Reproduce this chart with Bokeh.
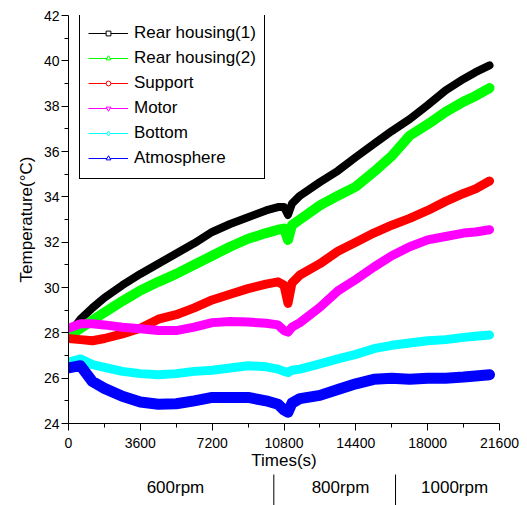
from bokeh.plotting import figure
from bokeh.layouts import column
from bokeh.models import Range1d, FixedTicker, Legend, LegendItem
from bokeh.core.properties import value
from bokeh.embed import file_html
from bokeh.resources import INLINE

# ---------------- data ----------------
time_s = [0, 600, 1200, 1800, 2700, 3600, 4500, 5400, 6300, 7200, 8100, 9000,
          9900, 10500, 10800, 11000, 11200, 11600, 12600, 13500, 14400, 15300,
          16200, 17100, 18000, 18900, 19800, 20400, 21100]

rear_housing_1 = [27.9, 28.6, 29.1, 29.55, 30.1, 30.6, 31.05, 31.5, 31.95, 32.45, 32.8, 33.1,
                  33.4, 33.55, 33.55, 33.2, 33.7, 34.05, 34.65, 35.15, 35.75, 36.33,
                  36.9, 37.43, 38.05, 38.7, 39.2, 39.5, 39.8]
rear_housing_2 = [27.85, 28.2, 28.55, 28.9, 29.4, 29.87, 30.25, 30.6, 31.0, 31.4, 31.8, 32.15,
                  32.4, 32.55, 32.6, 32.1, 32.75, 33.0, 33.62, 34.05, 34.45, 35.1,
                  35.8, 36.7, 37.2, 37.75, 38.2, 38.45, 38.8]
support = [27.75, 27.7, 27.65, 27.75, 27.95, 28.2, 28.6, 28.8, 29.1, 29.45, 29.7, 29.95,
           30.15, 30.25, 30.1, 29.3, 30.2, 30.55, 31.05, 31.6, 32.0, 32.4,
           32.75, 33.05, 33.4, 33.8, 34.15, 34.35, 34.7]
motor = [28.2, 28.4, 28.4, 28.35, 28.25, 28.18, 28.1, 28.1, 28.25, 28.45, 28.5, 28.48,
         28.42, 28.35, 28.1, 28.03, 28.25, 28.45, 29.13, 29.85, 30.35, 30.9,
         31.4, 31.8, 32.1, 32.25, 32.4, 32.45, 32.55]
bottom = [26.7, 26.85, 26.6, 26.48, 26.3, 26.2, 26.15, 26.2, 26.3, 26.35, 26.45, 26.55,
          26.5, 26.4, 26.3, 26.25, 26.35, 26.4, 26.63, 26.85, 27.05, 27.3,
          27.45, 27.55, 27.65, 27.7, 27.8, 27.85, 27.9]
atmosphere = [26.45, 26.55, 25.85, 25.55, 25.2, 24.95, 24.85, 24.87, 25.0, 25.15, 25.15, 25.15,
              25.0, 24.85, 24.6, 24.5, 24.9, 25.1, 25.24, 25.5, 25.75, 25.95,
              26.0, 25.95, 26.0, 26.0, 26.05, 26.1, 26.15]

series_names = ["Rear housing(1)", "Rear housing(2)", "Support", "Motor", "Bottom", "Atmosphere"]
series_values = [rear_housing_1, rear_housing_2, support, motor, bottom, atmosphere]
series_colors = ["#000000", "#00FF00", "#FF0000", "#FF00FF", "#00FFFF", "#0000FF"]
series_markers = ["square", "triangle", "circle", "inverted_triangle", "diamond", "triangle"]
series_widths = [8, 10, 9, 9, 9, 11]

x_ticks = [0, 3600, 7200, 10800, 14400, 18000, 21600]
x_minor = [1800, 5400, 9000, 12600, 16200, 19800]
y_ticks = [24, 26, 28, 30, 32, 34, 36, 38, 40, 42]
y_minor = [25, 27, 29, 31, 33, 35, 37, 39, 41]

stage_labels = ["600rpm", "800rpm", "1000rpm"]
stage_label_x = [5360, 13630, 19350]
stage_dividers = [10290, 16390]

FONT = "Liberation Sans"
LEFT, RIGHT = 68, 20
W = 519

p = figure(width=W, height=473, output_backend="svg", toolbar_location=None,
           title=None, x_range=Range1d(0, 21600), y_range=Range1d(24, 42),
           min_border_left=LEFT, min_border_right=RIGHT, min_border_top=15,
           min_border_bottom=50)
p.outline_line_color = None
p.xgrid.visible = False
p.ygrid.visible = False

for ax in (p.xaxis[0], p.yaxis[0]):
    ax.axis_line_color = "black"
    ax.axis_line_width = 1
    ax.major_tick_line_color = "black"
    ax.minor_tick_line_color = "black"
    ax.major_tick_out = 7
    ax.major_tick_in = 0
    ax.minor_tick_out = 4
    ax.minor_tick_in = 0
    ax.major_label_text_font = FONT
    ax.major_label_text_font_size = "14px"
    ax.major_label_text_color = "black"
    ax.axis_label_text_font = FONT
    ax.axis_label_text_font_size = "17px"
    ax.axis_label_text_font_style = "normal"
    ax.axis_label_text_color = "black"

p.xaxis.ticker = FixedTicker(ticks=x_ticks, minor_ticks=x_minor)
p.yaxis.ticker = FixedTicker(ticks=y_ticks, minor_ticks=y_minor)
p.xaxis.axis_label = "Times(s)"
p.yaxis.axis_label = "Temperature(°C)"
p.xaxis.major_label_standoff = 7
p.xaxis.axis_label_standoff = 0
p.yaxis.major_label_standoff = 2
p.yaxis.axis_label_standoff = 5

items = []
for name, vals, col, mk, lw in zip(series_names, series_values, series_colors,
                                   series_markers, series_widths):
    p.line(time_s, vals, line_color=col, line_width=lw, line_join="round", line_cap="round")
    # thin line + hollow marker used only for the legend (placed outside the visible range)
    lr = p.line(x=[-90000, -80000], y=[30, 30], line_color=col, line_width=1)
    ang = 1.5708 if name == "Atmosphere" else 0.0
    mr = p.scatter(x=[-85000], y=[30], marker=mk, angle=ang, size=5, line_color=col,
                   fill_color="white", line_width=1)
    items.append(LegendItem(label=name, renderers=[lr, mr]))

legend = Legend(items=items, location=(11, 244), margin=0, padding=8, spacing=1,
                label_height=24, glyph_height=12, glyph_width=40, label_standoff=6,
                label_width=122, border_line_color="black", border_line_width=1,
                border_line_alpha=1.0,
                background_fill_color="white", background_fill_alpha=1.0,
                label_text_font=FONT, label_text_font_size="17px",
                label_text_color="black")
p.add_layout(legend)

# ---------- strip under the plot with the speed stages ----------
q = figure(width=W, height=32, output_backend="svg", toolbar_location=None,
           title=None, x_range=p.x_range, y_range=Range1d(0, 32),
           x_axis_type=None, y_axis_type=None,
           min_border_left=LEFT, min_border_right=RIGHT, min_border_top=0,
           min_border_bottom=0)
q.outline_line_color = None
q.xgrid.visible = False
q.ygrid.visible = False
q.text(x=stage_label_x, y=[18] * len(stage_label_x), text=stage_labels,
       text_align="center", text_baseline="middle", text_font=value(FONT),
       text_font_size="17px", text_color="black")
q.segment(x0=stage_dividers, y0=[0] * len(stage_dividers),
          x1=stage_dividers, y1=[31] * len(stage_dividers),
          line_color="black", line_width=1)

layout = column(p, q, spacing=0)
open("out.html", "w").write(file_html(layout, INLINE))
